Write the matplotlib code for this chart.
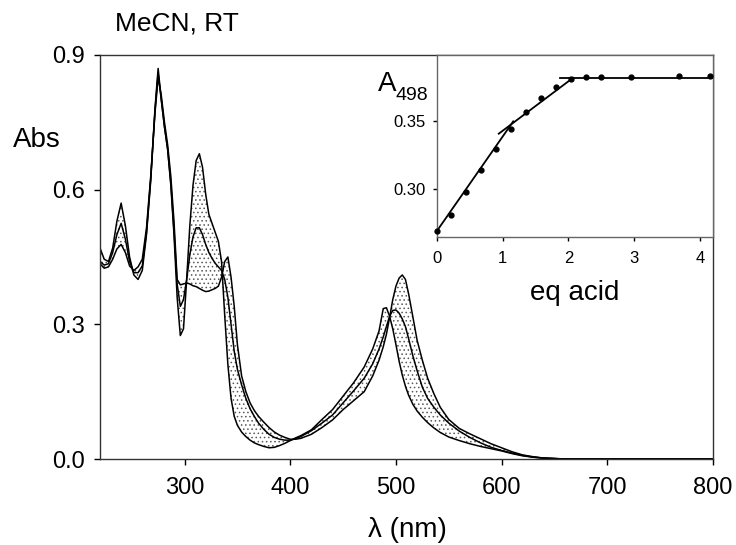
import numpy as np
import matplotlib.pyplot as plt

plt.rcParams['font.family'] = ['Liberation Sans', 'DejaVu Sans']
plt.rcParams['hatch.linewidth'] = 0.6

# wavelength grid (nm)
wl = [220, 224, 228, 232, 236, 240, 244, 248, 252, 256, 260, 264, 268, 272, 275,
      278, 281, 284, 287, 290, 293, 296, 299, 302, 305, 308, 311, 314, 317, 320,
      323, 326, 329, 332, 335, 338, 341, 344, 347, 350, 354, 358, 362, 366, 370,
      375, 380, 385, 390, 395, 400, 405, 410, 420, 430, 440, 450, 460, 470, 478,
      484, 488, 491, 494, 497, 500, 503, 506, 509, 512, 516, 520, 525, 530, 536,
      542, 550, 560, 570, 580, 590, 600, 610, 620, 630, 640, 650, 660, 680, 700,
      750, 800]

# 0 eq acid
abs_start = [0.470, 0.445, 0.440, 0.470, 0.530, 0.570, 0.520, 0.450, 0.410, 0.400,
             0.420, 0.500, 0.620, 0.780, 0.870, 0.800, 0.740, 0.690, 0.610, 0.500,
             0.360, 0.275, 0.290, 0.400, 0.520, 0.610, 0.665, 0.680, 0.650, 0.590,
             0.545, 0.525, 0.505, 0.485, 0.440, 0.320, 0.210, 0.135, 0.095, 0.075,
             0.060, 0.050, 0.042, 0.036, 0.032, 0.028, 0.025, 0.026, 0.030, 0.035,
             0.041, 0.047, 0.052, 0.065, 0.088, 0.110, 0.140, 0.170, 0.205, 0.245,
             0.285, 0.335, 0.337, 0.318, 0.290, 0.255, 0.218, 0.187, 0.162, 0.142,
             0.122, 0.107, 0.093, 0.081, 0.069, 0.059, 0.049, 0.041, 0.034, 0.028,
             0.023, 0.018, 0.012, 0.007, 0.004, 0.002, 0.001, 0.0, 0.0, 0.0,
             0.0, 0.0]

# ~1 eq acid
abs_mid = [0.440, 0.432, 0.435, 0.460, 0.500, 0.525, 0.490, 0.440, 0.415, 0.415,
           0.430, 0.505, 0.625, 0.775, 0.860, 0.800, 0.740, 0.690, 0.615, 0.510,
           0.390, 0.340, 0.355, 0.400, 0.455, 0.495, 0.515, 0.515, 0.500, 0.478,
           0.460, 0.447, 0.436, 0.428, 0.420, 0.400, 0.360, 0.300, 0.240, 0.200,
           0.165, 0.135, 0.112, 0.095, 0.080, 0.066, 0.055, 0.048, 0.044, 0.042,
           0.042, 0.045, 0.050, 0.063, 0.080, 0.098, 0.125, 0.152, 0.180, 0.212,
           0.245, 0.272, 0.295, 0.318, 0.331, 0.332, 0.325, 0.312, 0.295, 0.268,
           0.230, 0.197, 0.160, 0.135, 0.115, 0.098, 0.080, 0.062, 0.048, 0.036,
           0.026, 0.019, 0.013, 0.008, 0.004, 0.002, 0.001, 0.0, 0.0, 0.0,
           0.0, 0.0]

# >= 2 eq acid
abs_end = [0.435, 0.425, 0.428, 0.445, 0.468, 0.478, 0.460, 0.430, 0.420, 0.428,
           0.445, 0.515, 0.630, 0.770, 0.850, 0.810, 0.750, 0.700, 0.630, 0.530,
           0.400, 0.388, 0.390, 0.392, 0.390, 0.386, 0.384, 0.380, 0.376, 0.373,
           0.374, 0.377, 0.380, 0.385, 0.405, 0.440, 0.450, 0.405, 0.340, 0.255,
           0.185, 0.150, 0.125, 0.108, 0.095, 0.082, 0.070, 0.060, 0.053, 0.048,
           0.044, 0.044, 0.046, 0.055, 0.070, 0.087, 0.110, 0.130, 0.150, 0.185,
           0.220, 0.250, 0.278, 0.315, 0.355, 0.385, 0.403, 0.410, 0.400, 0.368,
           0.317, 0.265, 0.220, 0.180, 0.145, 0.115, 0.088, 0.068, 0.056, 0.045,
           0.034, 0.025, 0.016, 0.009, 0.005, 0.002, 0.001, 0.0, 0.0, 0.0,
           0.0, 0.0]

# titration at 498 nm
eq_acid = [0.0, 0.22, 0.44, 0.67, 0.90, 1.13, 1.36, 1.59, 1.81, 2.04, 2.27, 2.49, 2.95, 3.68, 4.16]
a498 = [0.2695, 0.2812, 0.2978, 0.3141, 0.3295, 0.3439, 0.3561, 0.3663, 0.3747,
        0.3807, 0.3817, 0.3822, 0.3822, 0.3829, 0.3827]

# fitted segments
fit1_x = [0.0, 1.16]
fit1_y = [0.2695, 0.3495]
fit2_x = [0.94, 2.07]
fit2_y = [0.3405, 0.3813]
fit3_x = [1.87, 4.2]
fit3_y = [0.3813, 0.3813]

fig = plt.figure(figsize=(7.36, 5.45), dpi=100)
ax = fig.add_axes([100/736, 1-459/545, 613/736, 404/545])

lo = np.minimum(np.minimum(abs_start, abs_mid), abs_end)
hi = np.maximum(np.maximum(abs_start, abs_mid), abs_end)
ax.fill_between(wl, lo, hi, facecolor='none', edgecolor='0.35', hatch='....', linewidth=0)
for s in (abs_start, abs_mid, abs_end):
    ax.plot(wl, s, color='k', lw=1.1)

ax.set_xlim(220, 800)
ax.set_ylim(0, 0.9)
ax.set_xticks([300, 400, 500, 600, 700, 800])
ax.set_yticks([0.0, 0.3, 0.6, 0.9])
ax.yaxis.set_major_formatter(plt.FormatStrFormatter('%.1f'))
ax.tick_params(direction='out', length=4, width=1, labelsize=17, pad=7)
ax.tick_params(axis='x', pad=9)
for sp in ax.spines.values():
    sp.set_linewidth(1)
    sp.set_color('0.2')

fig.text(115/736, 1-23/545, 'MeCN, RT', fontsize=19, ha='left', va='center')
fig.text(37/736, 1-140/545, 'Abs', fontsize=20, ha='center', va='center')
fig.text(407/736, 1-530/545, 'λ (nm)', fontsize=20, ha='center', va='center')

# inset
ins = fig.add_axes([437/736, 1-237/545, 276/736, 182/545])
ins.plot(fit1_x, fit1_y, color='k', lw=1.3)
ins.plot(fit2_x, fit2_y, color='k', lw=1.3)
ins.plot(fit3_x, fit3_y, color='k', lw=1.3)
ins.plot(eq_acid, a498, 'o', color='k', ms=3.5, clip_on=False, zorder=5)
ins.set_xlim(0, 4.2)
ins.set_ylim(0.265, 0.398)
ins.set_xticks([0, 1, 2, 3, 4])
ins.set_yticks([0.30, 0.35])
ins.yaxis.set_major_formatter(plt.FormatStrFormatter('%.2f'))
ins.tick_params(direction='out', length=3, width=1, labelsize=12, pad=5)
ins.tick_params(axis='x', pad=7)
for sp in ins.spines.values():
    sp.set_linewidth(1)
    sp.set_color('0.4')

fig.text(575/736, 1-293/545, 'eq acid', fontsize=20, ha='center', va='center')
fig.text(396/736, 1-84/545, 'A', fontsize=20, ha='right', va='center')
fig.text(396/736, 1-96/545, '498', fontsize=14, ha='left', va='center')

fig.savefig('out.png', dpi=100)
